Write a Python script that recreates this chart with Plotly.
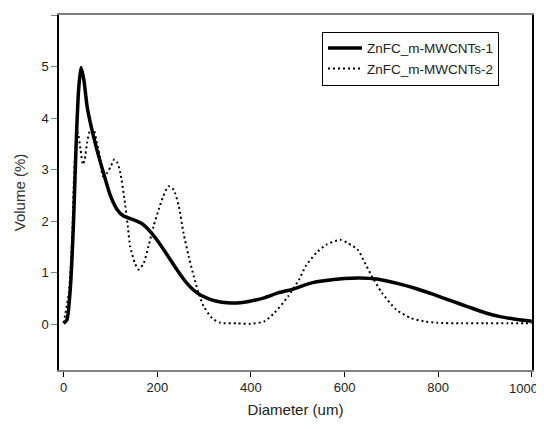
import plotly.graph_objects as go

# Series 1 (solid): diameter (um) vs volume (%)
d1 = [0, 7, 14, 21, 27, 32, 37, 43, 50, 57, 71, 85, 100, 114, 128, 149, 164, 178, 199, 221,
      242, 263, 285, 306, 327, 349, 377, 398, 430, 458, 488, 532, 577, 599, 633, 669, 719,
      754, 790, 830, 861, 902, 932, 965, 1000]
v1 = [0.02, 0.09, 0.67, 1.97, 3.59, 4.56, 4.98, 4.75, 4.23, 3.91, 3.39, 2.94, 2.49, 2.23, 2.10,
      2.03, 1.97, 1.87, 1.64, 1.35, 1.06, 0.80, 0.61, 0.51, 0.45, 0.42, 0.42, 0.45, 0.52, 0.61,
      0.68, 0.81, 0.87, 0.89, 0.90, 0.88, 0.78, 0.69, 0.58, 0.45, 0.35, 0.22, 0.15, 0.10, 0.06]

# Series 2 (dotted)
d2 = [0, 11, 18, 21, 25, 30, 36, 41, 45, 50, 57, 64, 71, 77, 84, 93, 101, 108, 115, 121, 130,
      137, 142, 152, 160, 171, 181, 192, 203, 213, 224, 235, 246, 256, 267, 278, 288, 299,
      317, 335, 370, 399, 429, 451, 480, 503, 517, 540, 562, 591, 606, 628, 643, 658, 680,
      710, 739, 769, 799, 850, 900, 950, 1000]
v2 = [0.03, 0.61, 1.64, 2.61, 3.39, 3.72, 3.39, 3.10, 3.20, 3.52, 3.78, 3.78, 3.52, 3.26, 2.87,
      2.94, 3.07, 3.20, 3.13, 2.94, 2.42, 1.90, 1.51, 1.19, 1.06, 1.19, 1.51, 1.90, 2.23, 2.49,
      2.68, 2.61, 2.29, 1.77, 1.32, 0.93, 0.61, 0.35, 0.12, 0.03, 0.02, 0.01, 0.06, 0.23, 0.55,
      0.87, 1.13, 1.39, 1.55, 1.64, 1.58, 1.45, 1.20, 0.94, 0.61, 0.29, 0.13, 0.06, 0.03, 0.02,
      0.02, 0.02, 0.02]

names = ["ZnFC_m-MWCNTs-1", "ZnFC_m-MWCNTs-2"]
x_ticks = [0, 200, 400, 600, 800, 1000]
# the last label sits at the window edge; it is drawn as an annotation so it stays inside
x_labels = ["0", "200", "400", "600", "800", ""]
last_label = "1000"
y_ticks = [0, 1, 2, 3, 4, 5, 6]

fig = go.Figure()
fig.add_trace(go.Scatter(x=d1, y=v1, mode="lines", name=names[0],
                         line=dict(color="black", width=3.5, shape="spline", smoothing=0.6)))
fig.add_trace(go.Scatter(x=d2, y=v2, mode="lines", name=names[1],
                         line=dict(color="black", width=2, dash="2px,3px", shape="spline", smoothing=0.6)))

fig.add_annotation(x=x_ticks[-1], xref="x", y=0, yref="paper", text=last_label,
                   showarrow=False, xanchor="right", xshift=8, yanchor="middle", yshift=-18,
                   font=dict(size=13, color="#222"))

font = "Liberation Sans, Arial, sans-serif"
# page body has an 8px margin, so the figure is offset to compensate
fig.update_layout(
    width=536, height=413,
    margin=dict(l=51, r=12, t=7, b=51, autoexpand=False),
    paper_bgcolor="white", plot_bgcolor="white",
    font=dict(family=font, size=13, color="#222"),
    showlegend=True,
    legend=dict(x=0.556, y=0.953, xanchor="left", yanchor="top",
                bordercolor="black", borderwidth=1, bgcolor="white",
                font=dict(size=13.5, color="#222"), itemwidth=34, tracegroupgap=0),
    xaxis=dict(range=[-10, 1000.5], tickvals=x_ticks, ticktext=x_labels,
               showgrid=False, zeroline=False,
               showline=True, linecolor="#808080", linewidth=1.5, mirror=True,
               ticks="outside", ticklen=5, tickcolor="black", automargin=False,
               tickfont=dict(size=13, color="#222"),
               title=dict(text="Diameter (um)", font=dict(size=15, color="#222"), standoff=10)),
    yaxis=dict(range=[-0.885, 6], tickvals=y_ticks, showgrid=False, zeroline=False,
               showline=True, linecolor="black", linewidth=1.5, mirror=True,
               ticks="outside", ticklen=6, tickcolor="#808080", automargin=False,
               tickfont=dict(size=13, color="#222"),
               title=dict(text="Volume (%)", font=dict(size=15, color="#333"), standoff=12)),
)

fig.write_html("out.html")
